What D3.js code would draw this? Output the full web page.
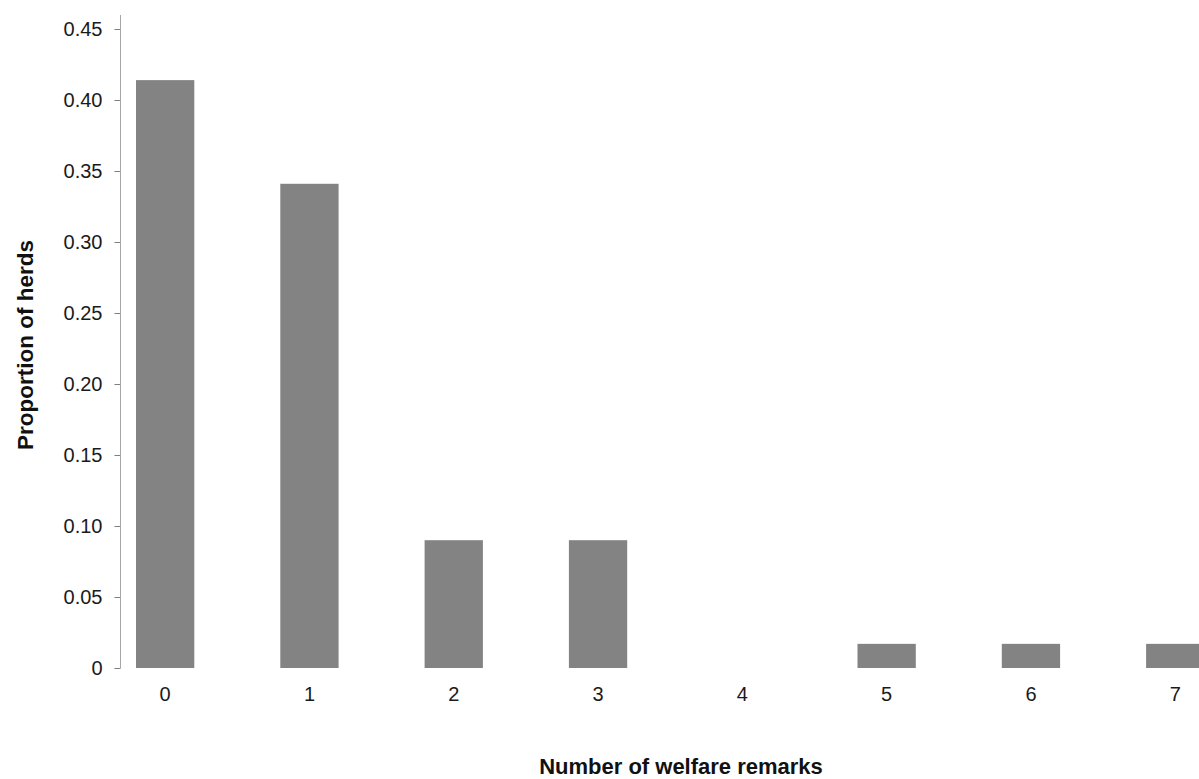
<!DOCTYPE html>
<html>
<head>
<meta charset="utf-8">
<script src="https://cdn.jsdelivr.net/npm/d3@7"></script>
<style>
  body { margin: 0; background: #fff; }
  svg { display: block; font-family: "Liberation Sans", Arial, sans-serif; }
</style>
</head>
<body>
<div id="chart"></div>
<script>
// data
const remarks = ["0", "1", "2", "3", "4", "5", "6", "7"];
const proportion = [0.414, 0.341, 0.090, 0.090, 0, 0.017, 0.017, 0.017];
const yTicks = [0, 0.05, 0.10, 0.15, 0.20, 0.25, 0.30, 0.35, 0.40, 0.45];

const W = 1199, H = 779;
const axisX = 120.5, y0 = 668, yTop = 29;

const svg = d3.select("#chart")
  .append("svg")
  .attr("width", W)
  .attr("height", H);

const x = d3.scaleBand()
  .domain(remarks)
  .range([93, 93 + 8 * 144.3])
  .paddingInner(0.596)
  .paddingOuter(0.298);

const y = d3.scaleLinear()
  .domain([0, 0.45])
  .range([y0, yTop]);

// bars
svg.selectAll(".bar")
  .data(remarks)
  .enter()
  .append("rect")
  .attr("class", "bar")
  .attr("x", d => x(d))
  .attr("y", (d, i) => y(proportion[i]))
  .attr("width", x.bandwidth())
  .attr("height", (d, i) => y0 - y(proportion[i]))
  .attr("fill", "#838383");

// y axis
const yAxis = d3.axisLeft(y)
  .tickValues(yTicks)
  .tickSize(6)
  .tickPadding(12)
  .tickFormat(d => d === 0 ? "0" : d3.format(".2f")(d));

const gy = svg.append("g")
  .attr("transform", `translate(${axisX},0)`)
  .call(yAxis);
gy.select(".domain").remove();
gy.append("line")
  .attr("x1", 0).attr("x2", 0)
  .attr("y1", 15).attr("y2", y0)
  .attr("stroke", "#a6a6a6");
gy.selectAll(".tick line").attr("stroke", "#7f7f7f");
gy.selectAll(".tick text")
  .attr("font-size", 20)
  .attr("fill", "#1a1a1a");

// x labels
const xAxis = d3.axisBottom(x).tickSize(0).tickPadding(19);
const gx = svg.append("g")
  .attr("transform", `translate(0,${y0})`)
  .call(xAxis);
gx.select(".domain").remove();
gx.selectAll(".tick text")
  .attr("font-size", 20)
  .attr("fill", "#1a1a1a");

// titles
svg.append("text")
  .attr("x", 681)
  .attr("y", 774)
  .attr("text-anchor", "middle")
  .attr("font-size", 22)
  .attr("font-weight", "bold")
  .attr("fill", "#111")
  .text("Number of welfare remarks");

svg.append("text")
  .attr("transform", "rotate(-90)")
  .attr("x", -345)
  .attr("y", 33)
  .attr("text-anchor", "middle")
  .attr("font-size", 22.5)
  .attr("font-weight", "bold")
  .attr("fill", "#111")
  .text("Proportion of herds");
</script>
</body>
</html>
